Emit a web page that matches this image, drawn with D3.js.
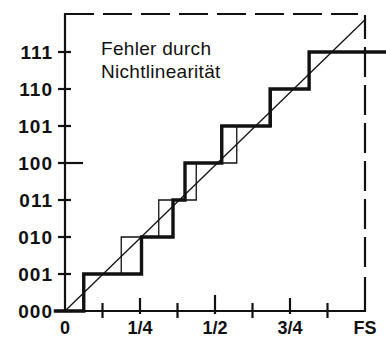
<!DOCTYPE html>
<html>
<head>
<meta charset="utf-8">
<script src="https://cdn.jsdelivr.net/npm/d3@7"></script>
<style>
  html, body { margin: 0; padding: 0; background: #fff; }
  svg { display: block; }
  text { font-family: "Liberation Sans", Arial, sans-serif; fill: #111; }
</style>
</head>
<body>
<svg id="chart" width="386" height="338"></svg>
<script>
// Output codes (y axis) and input fractions (x axis, in 1/8 FS steps)
const codeLabels = ['000', '001', '010', '011', '100', '101', '110', '111'];
const xTickValues = [0, 1, 2, 3, 4, 5, 6, 7, 8];
const xTickLabels = ['0', '', '1/4', '', '1/2', '', '3/4', '', 'FS'];

// Transition points of the ideal (thin) and the real (thick) converter
const idealSteps = [0.5, 1.5, 2.5, 3.5, 4.58, 5.5, 6.5];
const realSteps = [0.5, 2.04, 2.88, 3.2, 4.18, 5.47, 6.51];

// Ideal transfer line from 0 to FS
const diagonal = [[0, 0], [8, 7.87]];

const title = ['Fehler durch', 'Nichtlinearität'];

const svg = d3.select('#chart');
const x = d3.scaleLinear().domain([0, 8]).range([65, 365]);
const y = d3.scaleLinear().domain([0, 8]).range([311, 15]);

// Build step data for curveStepAfter
function stairs(steps, start, end) {
  const pts = [[start, 0]];
  steps.forEach((s, i) => pts.push([s, i + 1]));
  pts.push([end, steps.length]);
  return pts;
}

const stepLine = d3.line()
  .x(d => x(d[0]))
  .y(d => y(d[1]))
  .curve(d3.curveStepAfter);

// Frame: dashed top and right
svg.append('line')
  .attr('x1', x(0)).attr('x2', x(8) - 7)
  .attr('y1', y(8) - 1).attr('y2', y(8) - 1)
  .attr('stroke', '#111').attr('stroke-width', 2.2)
  .attr('stroke-dasharray', '29,9');

svg.append('line')
  .attr('x1', x(8)).attr('x2', x(8))
  .attr('y1', y(0) - 44).attr('y2', y(8))
  .attr('stroke', '#111').attr('stroke-width', 2.2)
  .attr('stroke-dasharray', '30,8');

// Axes (solid)
svg.append('path')
  .attr('d', `M${x(0)},${y(8) - 2}V${y(0)}H${x(8)}V${y(0) - 34}`)
  .attr('fill', 'none').attr('stroke', '#111').attr('stroke-width', 2.2);

// Y ticks
svg.append('g').selectAll('line')
  .data(codeLabels)
  .join('line')
  .attr('x1', x(0) - 7)
  .attr('x2', (d, i) => i === 4 ? x(0) + 18 : x(0) + 6)
  .attr('y1', (d, i) => y(i)).attr('y2', (d, i) => y(i))
  .attr('stroke', '#111').attr('stroke-width', 2.2);

svg.append('g').selectAll('text')
  .data(codeLabels)
  .join('text')
  .attr('x', x(0) - 12)
  .attr('y', (d, i) => y(i) + 7)
  .attr('text-anchor', 'end')
  .attr('font-size', 19)
  .attr('font-weight', 'bold')
  .attr('letter-spacing', 1)
  .text(d => d);

// X ticks
svg.append('g').selectAll('line')
  .data(xTickValues.filter(v => v > 0 && v < 8))
  .join('line')
  .attr('x1', d => x(d)).attr('x2', d => x(d))
  .attr('y1', d => d === 4 ? y(0) - 16 : d % 2 === 0 ? y(0) - 13 : y(0) - 8)
  .attr('y2', d => d % 2 === 0 ? y(0) + 3 : y(0) + 7)
  .attr('stroke', '#111').attr('stroke-width', 2.2);

svg.append('g').selectAll('text')
  .data(xTickValues)
  .join('text')
  .attr('x', d => x(d))
  .attr('y', 334)
  .attr('text-anchor', 'middle')
  .attr('font-size', 18)
  .attr('font-weight', 'bold')
  .text((d, i) => xTickLabels[i]);

// Ideal staircase (thin)
svg.append('path')
  .attr('d', stepLine(stairs(idealSteps, 0, 8)))
  .attr('fill', 'none').attr('stroke', '#111').attr('stroke-width', 1.3);

// Real staircase (thick)
svg.append('path')
  .attr('d', stepLine(stairs(realSteps, -0.3, 8.6)))
  .attr('fill', 'none').attr('stroke', '#111').attr('stroke-width', 3.4);

// Diagonal
svg.append('line')
  .attr('x1', x(diagonal[0][0])).attr('y1', y(diagonal[0][1]))
  .attr('x2', x(diagonal[1][0])).attr('y2', y(diagonal[1][1]))
  .attr('stroke', '#111').attr('stroke-width', 1.3);

// Annotation
svg.append('g').selectAll('text')
  .data(title)
  .join('text')
  .attr('x', 101)
  .attr('y', (d, i) => 55 + i * 23)
  .attr('font-size', 19)
  .attr('letter-spacing', 0.3)
  .text(d => d);
</script>
</body>
</html>
